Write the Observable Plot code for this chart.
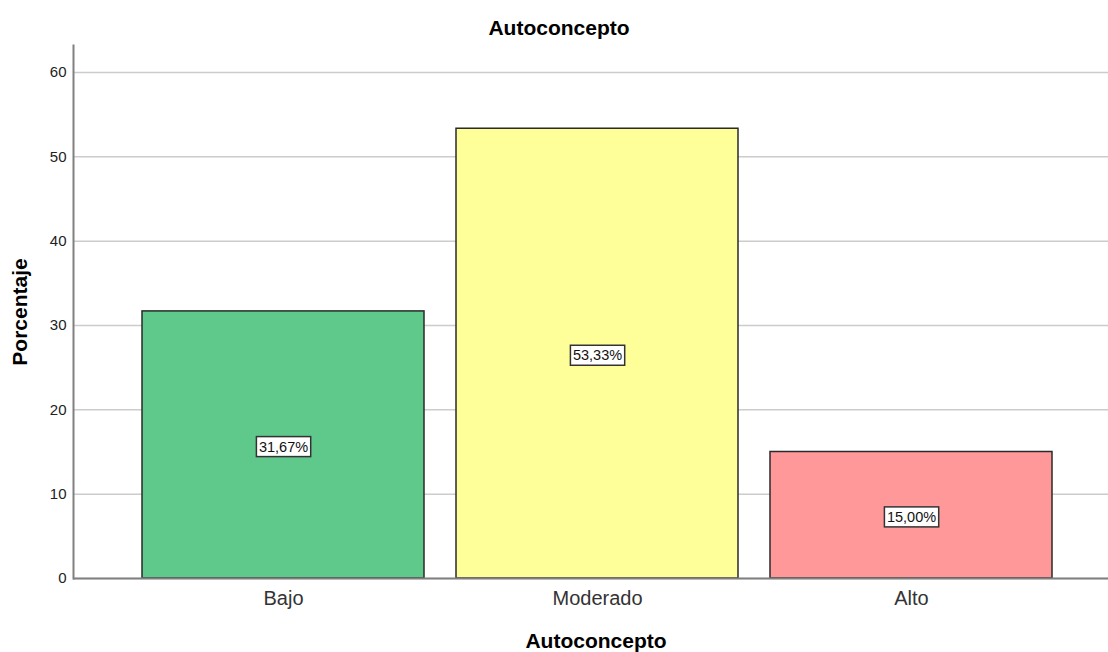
<!DOCTYPE html>
<html><head><meta charset="utf-8">
<script src="https://cdn.jsdelivr.net/npm/d3@7"></script>
<script src="https://cdn.jsdelivr.net/npm/@observablehq/plot@0.6"></script>
<style>
body{margin:0;background:#fff;overflow:hidden}
svg{font-family:"Liberation Sans",Arial,sans-serif}
</style>
</head><body><div id="chart"></div>
<script>
const categories = ["Bajo", "Moderado", "Alto"];
const values = [31.67, 53.33, 15.00];
const colors = ["#5ec98b", "#ffff99", "#ff9999"];
const yTicks = [0, 10, 20, 30, 40, 50, 60];
const title = "Autoconcepto";
const xLabel = "Autoconcepto";
const yLabel = "Porcentaje";

const data = categories.map((c, i) => ({cat: c, value: values[i], color: colors[i]}));
const fmt = v => v.toFixed(2).replace(".", ",") + "%";
const labelTexts = values.map(fmt);

const chart = Plot.plot({
  width: 1108, height: 652,
  marginTop: 45, marginBottom: 74, marginLeft: 73, marginRight: 0,
  style: {fontFamily: '"Liberation Sans", Arial, sans-serif', background: "#fff", overflow: "hidden"},
  x: {domain: categories, range: [72, 1122], paddingInner: 0.102, paddingOuter: 0.222, axis: null},
  y: {domain: [0, 63.2], axis: null},
  color: {type: "identity"},
  marks: [
    Plot.gridY(yTicks, {stroke: "#cccccc", strokeOpacity: 1, strokeWidth: 1.5}),
    Plot.barY(data, {x: "cat", y: "value", fill: "color", stroke: "#2a2a2a", strokeWidth: 1.5}),
    Plot.ruleY([0], {stroke: "#808080", strokeWidth: 2}),
    Plot.frame({anchor: "left", stroke: "#808080", strokeWidth: 2}),
    Plot.axisY({ticks: yTicks, tickSize: 0, tickPadding: 7, fontSize: 15, fill: "#222", label: null}),
    Plot.axisX({tickSize: 0, tickPadding: 12, fontSize: 20, fill: "#333", label: null}),
    Plot.text(data, {x: "cat", y: d => d.value / 2, text: d => fmt(d.value), dy: 2, fontSize: 14.5, fill: "#111"}),
    Plot.text([title], {frameAnchor: "top", lineAnchor: "middle", textAnchor: "middle", dx: -32, dy: -17, fontSize: 21, fontWeight: "bold", fill: "#000"}),
    Plot.text([xLabel], {frameAnchor: "bottom", lineAnchor: "middle", textAnchor: "middle", dx: 5, dy: 63, fontSize: 21, fontWeight: "bold", fill: "#000"}),
    Plot.text([yLabel], {frameAnchor: "left", lineAnchor: "middle", textAnchor: "middle", dx: -53, rotate: -90, fontSize: 21, fontWeight: "bold", fill: "#000"})
  ]
});
document.getElementById("chart").appendChild(chart);

// white boxes behind the value labels
d3.select(chart).selectAll("text")
  .filter(function() { return labelTexts.includes(this.textContent); })
  .each(function() {
    const b = this.getBBox();
    const t = this.getAttribute("transform");
    const r = document.createElementNS("http://www.w3.org/2000/svg", "rect");
    r.setAttribute("x", b.x - 2.5);
    r.setAttribute("y", b.y - 2);
    r.setAttribute("width", b.width + 5);
    r.setAttribute("height", b.height + 4);
    r.setAttribute("fill", "#fff");
    r.setAttribute("stroke", "#333");
    r.setAttribute("stroke-width", "1.5");
    if (t) r.setAttribute("transform", t);
    this.parentNode.insertBefore(r, this);
  });
</script>
</body></html>
